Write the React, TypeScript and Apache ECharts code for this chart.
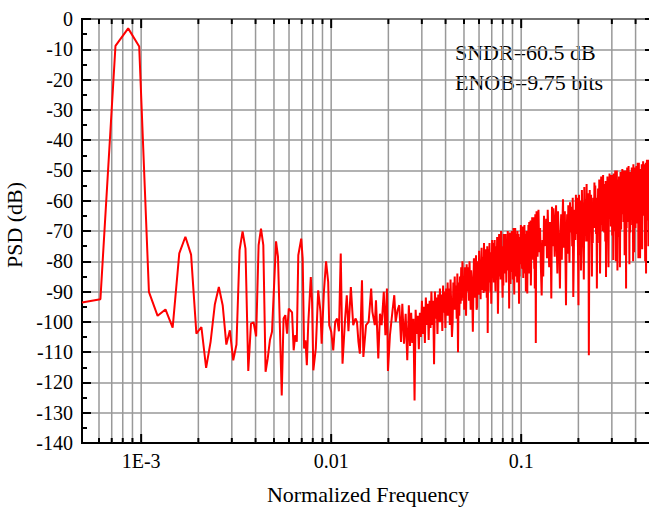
import React, { useEffect, useRef } from "react";
import * as echarts from "echarts";

const FFT_N = 8192;
const FREQ_MIN = 1 / 2048;
const FREQ_MAX = 0.5;
const Y_MIN = -140;
const Y_MAX = 0;
const Y_STEP = 10;

// Low-frequency FFT bins
const lowBins = [
  4, 5, 6, 7, 8, 9, 10, 11, 12, 13, 14, 15, 16, 17, 18, 19, 20, 21, 22, 23, 24, 25, 26, 27, 28, 29, 30,
  31, 32, 33, 34, 35, 36, 37, 38, 39, 40, 42, 43, 45, 46, 47, 48, 49, 51, 52, 53, 54, 55, 57, 58, 59,
  60, 61, 62, 64, 65, 66, 68, 70, 72, 73, 75, 77, 79, 80, 82, 84, 86, 88, 90, 92, 94, 97, 99, 101, 104,
  107, 110, 112, 114, 116, 119, 121, 125, 129, 133, 135, 139, 141, 145, 148, 151, 155, 158, 161, 163,
  167, 172, 176, 179, 183, 187, 191, 194, 198, 202, 206, 210, 213,
];
const lowDb = [
  -93.6, -92.5, -8.9, -3.1, -9.1, -90.1, -98.0, -95.9, -101.9, -77.4,
  -71.9, -77.8, -103.9, -101.7, -115.2, -106.6, -94.3, -88.5, -94.5, -107.5,
  -102.8, -112.7, -107.5, -76.3, -70.1, -75.8, -116.2, -100.6, -100.2, -104.8,
  -74.7, -69.2, -74.7, -116.5, -112, -106, -103.3,
  -73.4, -78.5, -124.3, -98.9, -97.8, -103.9, -95.6,
  -96.9, -109.4, -104.4, -106.6, -78.0,
  -72.5, -79.1, -108.8, -106.1, -114.3, -101.1,
  -85.2, -93.4, -116.0, -108.8,
  -89.6, -96.7, -107.2, -90.1, -80.0, -86.8, -101.1,
  -103.3, -109.4, -100.0, -98.9, -103.1, -77.4,
  -113.8, -98.9, -91.2, -103.1, -88.5, -101.1, -98.9, -100, -106.6, -110.5,
  -86.3, -111.6, -101.1, -100.0, -89.0, -96.7, -101.1, -92.9, -112.1, -97.3,
  -101.1, -90.1, -104.4, -89.0, -116.2, -104.4, -96.7, -91.2, -100, -96.2,
  -94.5, -106.6, -94.0, -107.2, -97.3, -112.7, -94.5, -108,
];

// Dense noise-shaped region, sampled every few bins
const denseAStart = 216;
const denseAStep = 3;
const denseADb = [
  -97, -107, -99, -126, -96, -104, -98, -109, -97, -105,
  -93, -104, -95, -107, -92, -101, -94, -106, -93, -102,
  -90, -101, -93, -114, -90, -99, -92, -104, -91, -100,
  -89, -100, -91, -103, -88, -97, -90, -102, -89, -98,
  -87, -98, -89, -101, -86, -95, -105, -100, -87, -96,
  -85, -96, -88, -99, -84, -110, -87, -98, -85, -94,
  -82, -93,
];
const denseBStart = 402;
const denseBStep = 3;
const denseBDb = [
  -80, -92, -85, -96, -82, -88, -98, -81, -90, -86,
  -82, -93, -80, -88, -96, -83, -86, -92, -103.3, -90,
  -79, -85, -92, -82, -78, -96, -95, -80, -86, -91,
  -76.5, -85.5, -79.5, -92.5, -82.5, -75.5, -89.5, -83.5, -78.5, -90.5,
  -74, -86, -79, -90, -76, -82, -92, -75, -103.7, -80,
  -76, -87, -74, -82, -90, -77, -94, -86, -73, -84,
  -74, -80, -87, -77, -73, -84, -90, -75, -81, -86,
  -72, -81, -97.3, -88, -78, -71, -85, -79, -74, -86,
  -70, -82, -75, -86, -92, -78, -88, -71, -80, -76,
  -73, -84, -71, -79, -87, -74, -77, -83, -70, -81,
  -71.5, -77.5, -95.6, -74.5, -70.5, -81.5, -87.5, -72.5, -78.5, -83.5,
  -70, -79, -73, -86, -76, -69, -83, -91, -72, -84,
  -69, -81, -74, -85, -71, -77, -87, -70, -79, -75,
  -71, -82, -94, -77, -85, -72, -75, -81, -68, -79,
  -69.5, -75.5, -82.5, -72.5, -68.5, -79.5, -85.5, -70.5, -76.5, -81.5,
  -68, -77, -71, -84, -74, -90, -81, -75, -70, -82,
  -90.6, -78, -71, -82, -68, -74, -84, -67, -76, -72,
  -68.5, -79.5, -66.5, -88, -82.5, -69.5, -72.5, -78.5, -65.5, -76.5,
  -66.5, -72.5, -79.5, -69.5, -65.5, -76.5, -82.5, -67.5, -89, -78.5,
  -64.5, -73.5, -107, -80.5, -70.5, -63.5, -77.5, -71.5, -66.5, -78.5,
];
const denseCStart = 1010;
const denseCStep = 10;
const denseCDb = [
  -63, -77, -69, -82, -91.3, -73, -85, -65, -75, -70,
  -66, -79, -63, -73, -82, -67, -71, -92.3, -62, -75,
  -62.5, -69.5, -78.5, -66.5, -61.5, -74.5, -84, -63.5, -71.5, -76.5,
  -89, -71.5, -64.5, -79.5, -67.5, -59.5, -75.5, -69.5, -63.5, -77.5,
  -94.5, -72.5, -64.5, -77.5, -61.5, -68.5, -80.5, -60.5, -70.5, -65.5,
  -62, -75, -59, -91.8, -78, -63, -67, -73, -58, -71,
  -59, -66, -75, -94.5, -58, -71, -78, -60, -83, -73,
  -56.5, -67.5, -60.5, -75.5, -86, -55.5, -71.5, -65.5, -59.5, -73.5,
  -54.5, -68.5, -60.5, -73.5, -57.5, -111, -76.5, -56.5, -66.5, -61.5,
  -58, -71, -85, -65, -74, -59, -63, -69, -54, -67,
  -55, -62, -71, -59, -89, -67, -74, -56, -64, -69,
  -53, -64, -84, -72, -60, -52, -68, -62, -56, -70,
  -51.5, -65.5, -57.5, -70.5, -54.5, -61.5, -73.5, -53.5, -85.2, -58.5,
  -55, -68, -52, -62, -71, -82, -60, -66, -51, -64,
  -52.5, -59.5, -68.5, -56.5, -51.5, -64.5, -71.5, -53.5, -61.5, -79.6,
  -51, -62, -55, -70, -58, -50, -66, -80, -54, -68,
  -50, -64, -83, -69, -53, -60, -72, -52, -62, -57,
  -82, -66.5, -50.5, -60.5, -69.5, -54.5, -58.5, -64.5, -49.5, -62.5,
  -51, -58, -67, -55, -50, -63, -78, -52, -60, -65,
  -50, -89, -54, -69, -57, -49, -65, -59, -53, -67,
  -48.5, -62.5, -54.5, -81, -51.5, -58.5, -70.5, -50.5, -60.5, -55.5,
  -52, -65, -49, -59, -68, -53, -57, -80, -48, -61,
  -50, -77, -66, -54, -49, -62, -69, -51, -59, -64,
  -48.5, -59.5, -52.5, -67.5, -55.5, -47.5, -63.5, -57.5, -79, -65.5,
  -47.5, -61.5, -53.5, -66.5, -50.5, -79, -69.5, -49.5, -59.5, -54.5,
  -51, -64, -48, -58, -76, -52, -56, -62, -47, -60,
  -49, -56, -65, -53, -48, -61, -68, -80, -58, -63,
  -47.5, -84, -51.5, -66.5, -54.5, -46.5, -62.5, -56.5, -50.5, -64.5,
  -46.5, -60.5, -75, -65.5, -49.5, -56.5, -68.5, -48.5, -58.5, -53.5,
];

// Vertical grid / tick positions of the log axis
const xTickValues = [
  0.0006, 0.0007, 0.0008, 0.0009, 0.001,
  0.002, 0.003, 0.004, 0.005, 0.006, 0.007, 0.008, 0.009, 0.01,
  0.02, 0.03, 0.04, 0.05, 0.06, 0.07, 0.08, 0.09, 0.1,
  0.2, 0.3, 0.4,
];
const xMajorValues = [0.001, 0.01, 0.1];
const xMajorLabels = ["1E-3", "0.01", "0.1"];

const annotations = ["SNDR=60.5 dB", "ENOB=9.75 bits"];

const SERIF = '"Liberation Serif", "Times New Roman", Times, serif';

function buildPoints(): [number, number][] {
  const pts: [number, number][] = [];
  lowBins.forEach((k, i) => pts.push([k / FFT_N, lowDb[i]]));
  denseADb.forEach((v, i) => pts.push([(denseAStart + i * denseAStep) / FFT_N, v]));
  denseBDb.forEach((v, i) => pts.push([(denseBStart + i * denseBStep) / FFT_N, v]));
  denseCDb.forEach((v, i) => pts.push([(denseCStart + i * denseCStep) / FFT_N, v]));
  return pts;
}

function isMajor(v: number) {
  return xMajorValues.some((m) => Math.abs(m - v) / m < 1e-6);
}

export default function App() {
  const ref = useRef<HTMLDivElement>(null);

  useEffect(() => {
    document.body.style.margin = "0";
    if (!ref.current) return;
    const chart = echarts.init(ref.current, undefined, { renderer: "svg" });

    const option: any = {
      animation: false,
      backgroundColor: "#ffffff",
      grid: {
        left: 82,
        right: -5,
        top: 19,
        bottom: 65,
        show: true,
        borderColor: "#000",
        borderWidth: 2,
        backgroundColor: "transparent",
        containLabel: false,
        outerBoundsMode: "none",
      },
      xAxis: {
        type: "log",
        logBase: 10,
        min: FREQ_MIN,
        max: FREQ_MAX,
        name: "Normalized Frequency",
        nameLocation: "middle",
        nameGap: 40,
        nameTextStyle: { color: "#000", fontSize: 22, fontFamily: SERIF },
        axisLine: { show: true, onZero: false, lineStyle: { color: "#000", width: 2 } },
        axisTick: { show: false },
        splitLine: { show: false },
        axisLabel: {
          color: "#000",
          fontSize: 20,
          fontFamily: SERIF,
          margin: 8,
          formatter: (v: number) => {
            const idx = xMajorValues.findIndex((m) => Math.abs(m - v) / m < 1e-6);
            return idx >= 0 ? xMajorLabels[idx] : "";
          },
        },
      },
      yAxis: [
        {
          type: "value",
          min: Y_MIN,
          max: Y_MAX,
          interval: Y_STEP,
          name: "PSD (dB)",
          nameLocation: "middle",
          nameGap: 40,
          nameTextStyle: { color: "#000", fontSize: 22, fontFamily: SERIF, padding: [0, 0, 0, 12] },
          axisLine: { show: true, lineStyle: { color: "#000", width: 2 } },
          axisTick: { show: true, inside: true, length: 9, lineStyle: { color: "#000", width: 2 } },
          minorTick: { show: true, splitNumber: 2, length: 5, lineStyle: { color: "#000", width: 2 } },
          axisLabel: { color: "#000", fontSize: 20, fontFamily: SERIF, margin: 9 },
          splitLine: { show: true, lineStyle: { color: "#999999", width: 1.5 } },
        },
        {
          type: "value",
          position: "right",
          min: Y_MIN,
          max: Y_MAX,
          interval: Y_STEP,
          axisLine: { show: true, lineStyle: { color: "#000", width: 2 } },
          axisTick: { show: true, inside: true, length: 9, lineStyle: { color: "#000", width: 2 } },
          minorTick: { show: true, splitNumber: 2, length: 5, lineStyle: { color: "#000", width: 2 } },
          axisLabel: { show: false },
          splitLine: { show: false },
        },
      ],
      graphic: annotations.map((t, i) => ({
        type: "text",
        x: 455,
        y: 52.5 + i * 30,
        silent: true,
        style: {
          text: t,
          fill: "#000",
          fontSize: 22,
          fontFamily: SERIF,
          verticalAlign: "middle",
          align: "left",
        },
      })),
      series: [
        {
          type: "custom",
          silent: true,
          z: 1,
          clip: false,
          encode: { x: 0, y: 1 },
          data: xTickValues.map((v) => [v, Y_MIN]),
          renderItem: (params: any, api: any) => {
            const f = api.value(0);
            const pb = api.coord([f, Y_MIN]);
            const pt = api.coord([f, Y_MAX]);
            const x = pb[0];
            const len = isMajor(f) ? 9 : 5;
            return {
              type: "group",
              children: [
                {
                  type: "line",
                  shape: { x1: x, y1: pt[1], x2: x, y2: pb[1] },
                  style: { stroke: "#999999", lineWidth: 1.5 },
                },
                {
                  type: "line",
                  shape: { x1: x, y1: pb[1], x2: x, y2: pb[1] - len },
                  style: { stroke: "#000", lineWidth: 2 },
                },
                {
                  type: "line",
                  shape: { x1: x, y1: pt[1], x2: x, y2: pt[1] + len },
                  style: { stroke: "#000", lineWidth: 2 },
                },
              ],
            };
          },
        },
        {
          type: "line",
          z: 3,
          data: buildPoints(),
          showSymbol: false,
          symbol: "none",
          clip: true,
          lineStyle: { color: "#ff0000", width: 2 },
        },
      ],
    };

    chart.setOption(option);
    return () => chart.dispose();
  }, []);

  return <div ref={ref} style={{ width: 649, height: 508 }} />;
}
